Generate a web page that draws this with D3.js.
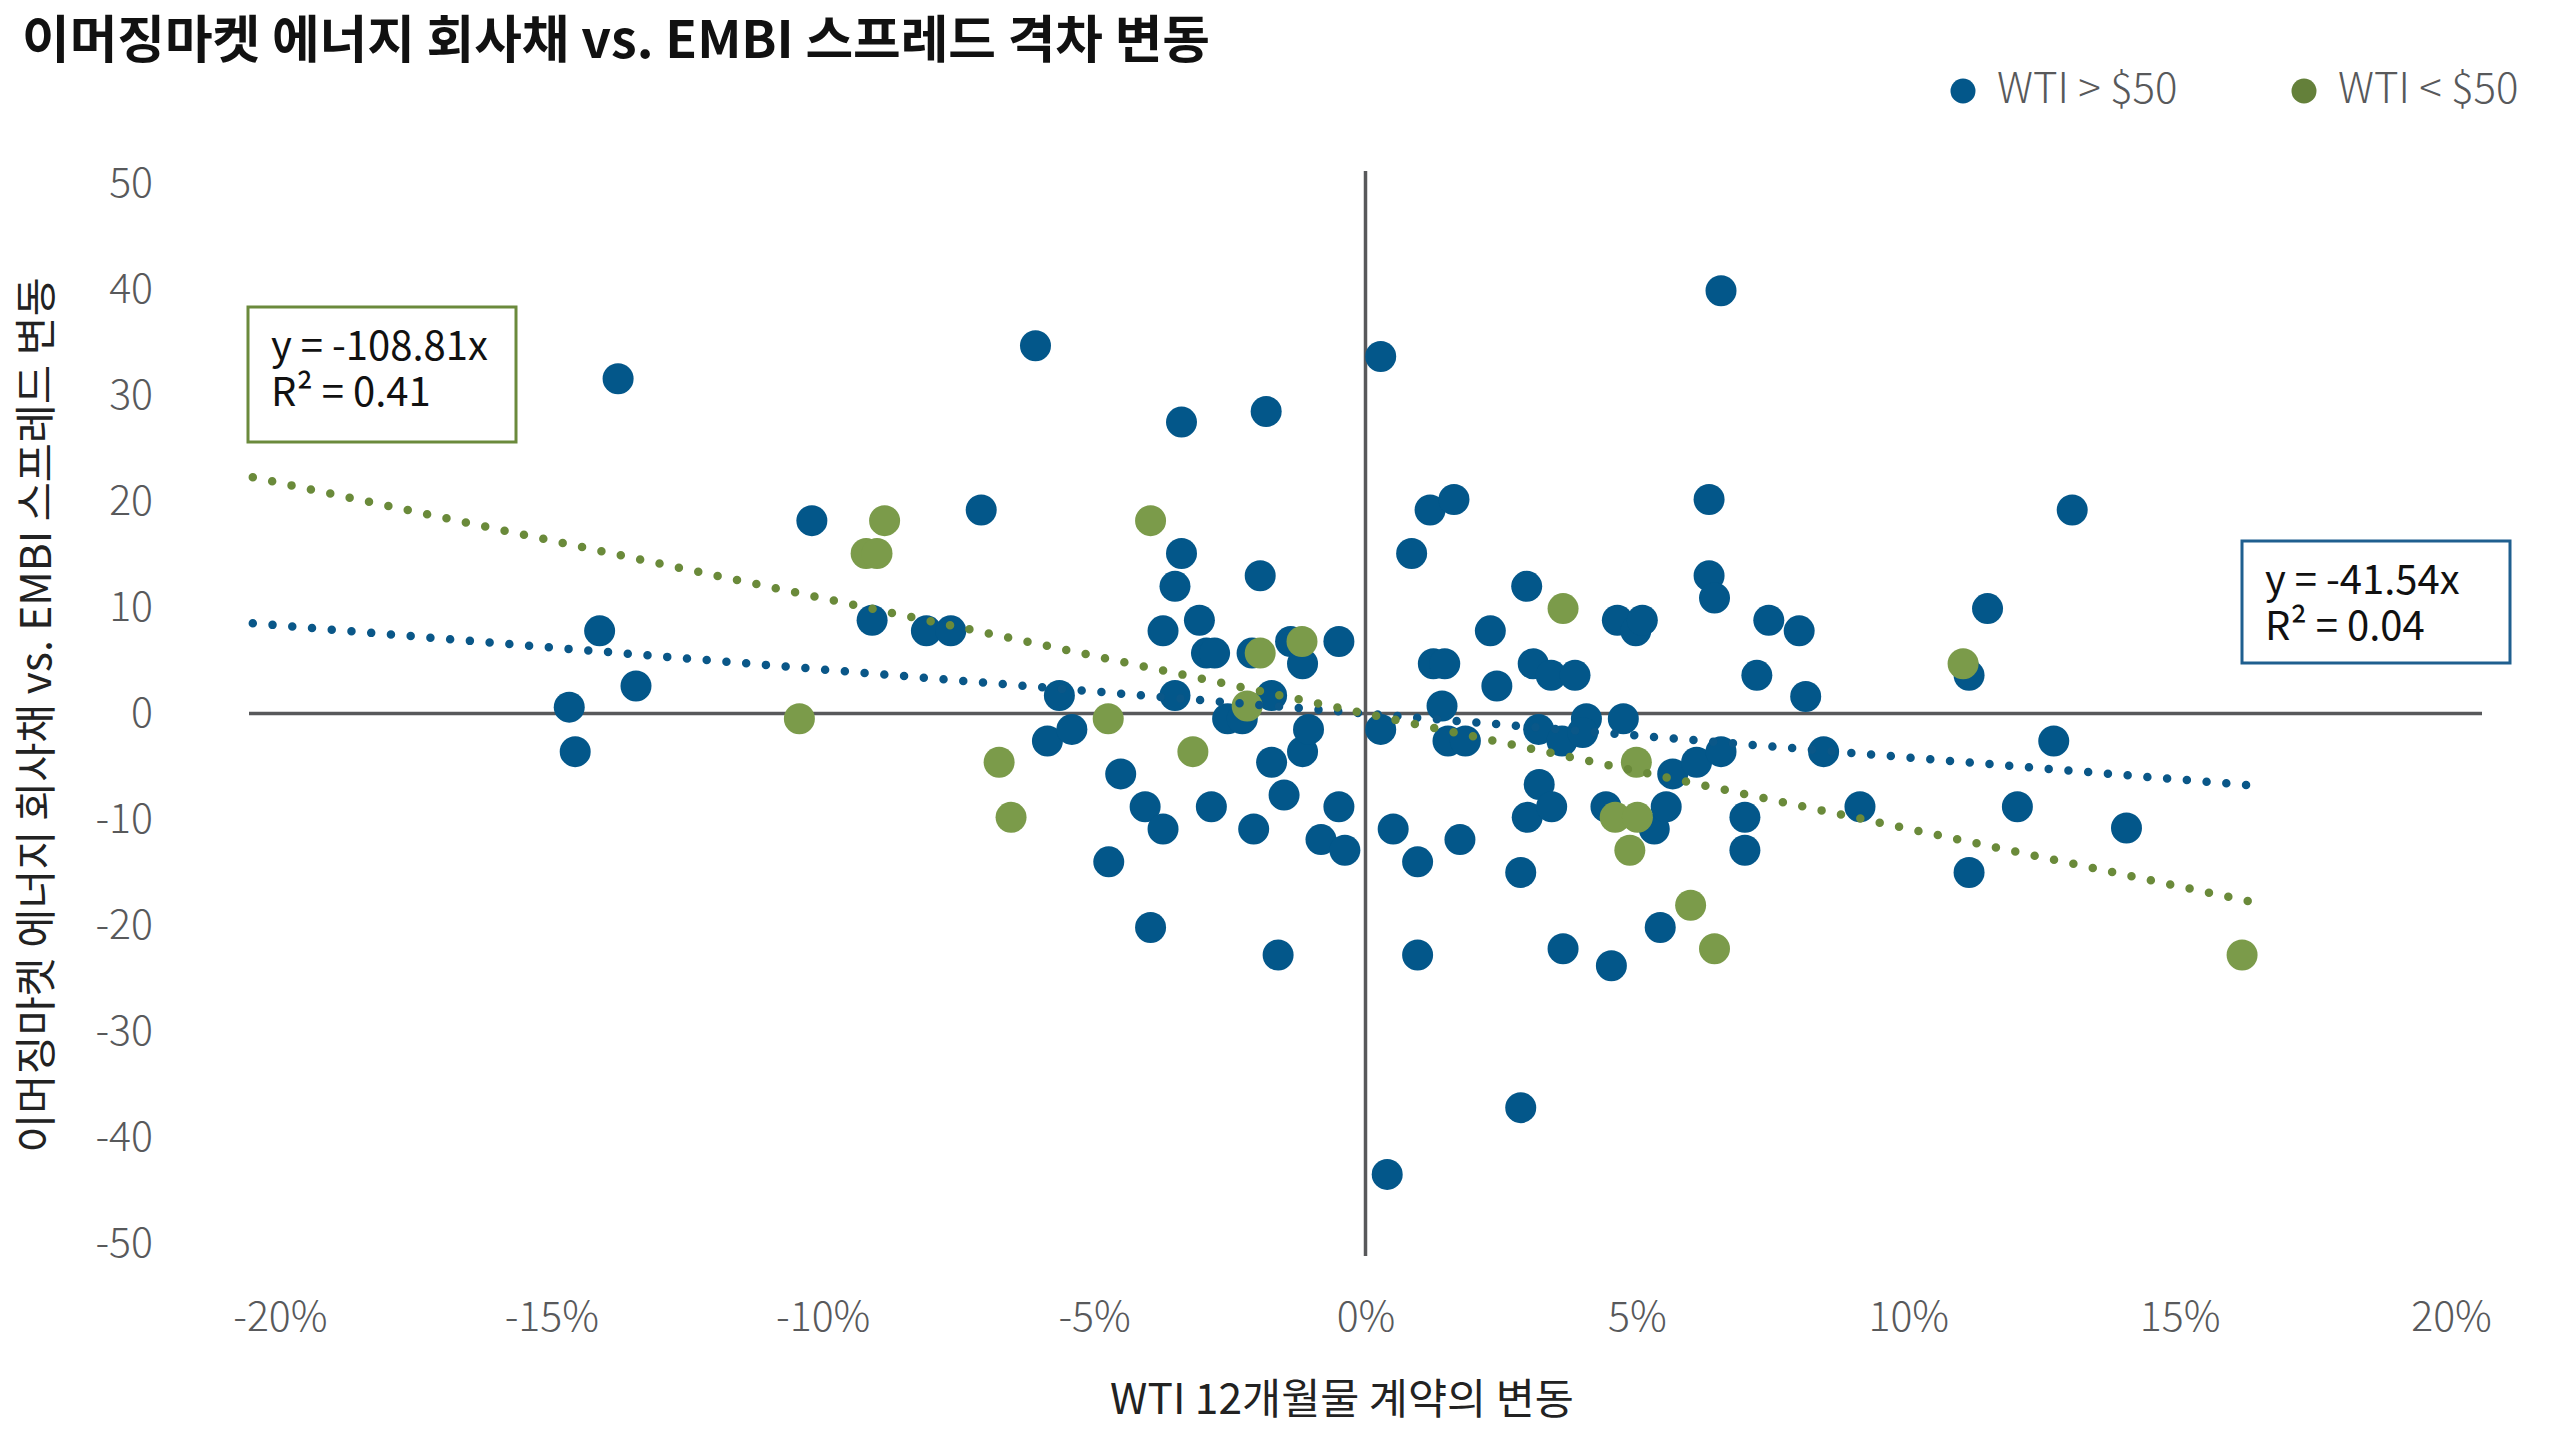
<!DOCTYPE html>
<html>
<head>
<meta charset="utf-8">
<script src="https://cdn.jsdelivr.net/npm/d3@7"></script>
<style>
  body { margin: 0; background: #fff; }
  text { font-family: "Noto Sans CJK KR", "Noto Sans", sans-serif; }
</style>
</head>
<body>
<svg width="2560" height="1440"></svg>
<script>
// [WTI 12m change (%), spread change]
var wtiAbove50 = [
  [-14.67, 0.6], [-14.56, -3.6], [-14.11, 7.8], [-13.77, 31.6], [-13.44, 2.6],
  [-10.20, 18.2], [-9.09, 8.8], [-8.09, 7.8], [-7.64, 7.8], [-7.08, 19.2],
  [-6.08, 34.7], [-5.86, -2.6], [-5.64, 1.7], [-5.41, -1.5], [-4.73, -14.0],
  [-4.51, -5.7], [-4.06, -8.8], [-3.96, -20.2], [-3.73, -10.9], [-3.73, 7.8],
  [-3.51, 12.0], [-3.51, 1.7], [-3.39, 15.1], [-3.39, 27.5], [-3.06, 8.8],
  [-2.93, 5.7], [-2.78, 5.7], [-2.84, -8.8], [-2.54, -0.5], [-2.27, -0.5],
  [-2.09, 5.7], [-2.06, -10.9], [-1.94, 13.0], [-1.83, 28.5], [-1.73, 1.7],
  [-1.73, -4.6], [-1.61, -22.8], [-1.50, -7.7], [-1.38, 6.8], [-1.16, 4.7],
  [-1.16, -3.6], [-1.05, -1.5], [-0.82, -11.9], [-0.49, 6.8], [-0.49, -8.8],
  [-0.38, -12.9], [0.28, 33.7], [0.28, -1.5], [0.40, -43.5], [0.51, -10.9],
  [0.85, 15.1], [0.96, -14.0], [0.96, -22.8], [1.19, 19.2], [1.25, 4.7],
  [1.46, 4.7], [1.41, 0.7], [1.52, -2.6], [1.63, 20.2], [1.74, -11.9],
  [1.84, -2.6], [2.30, 7.8], [2.42, 2.6], [2.86, -15.0], [2.86, -37.2],
  [2.97, 12.0], [2.98, -9.8], [3.09, 4.7], [3.19, -1.5], [3.20, -6.7],
  [3.42, 3.6], [3.43, -8.8], [3.62, -2.6], [3.64, -22.2], [3.86, 3.6],
  [4.07, -0.5], [4.00, -1.8], [4.43, -8.8], [4.53, -23.8], [4.64, 8.8],
  [4.75, -0.5], [4.98, 7.8], [5.10, 8.8], [5.32, -10.9], [5.43, -20.2],
  [5.54, -8.8], [5.66, -5.7], [6.10, -4.6], [6.33, 20.2], [6.33, 13.0],
  [6.43, 10.9], [6.55, 39.9], [6.55, -3.6], [6.99, -9.8], [6.99, -12.9],
  [7.21, 3.6], [7.43, 8.8], [7.99, 7.8], [8.11, 1.6], [8.44, -3.6],
  [9.11, -8.8], [11.12, 3.6], [11.12, -15.0], [11.46, 9.9], [12.01, -8.8],
  [12.68, -2.6], [13.02, 19.2], [14.02, -10.8]
];

var wtiBelow50 = [
  [-10.43, -0.5], [-9.20, 15.1], [-9.00, 15.1], [-8.86, 18.2], [-6.75, -4.6],
  [-6.53, -9.8], [-4.74, -0.5], [-3.96, 18.2], [-3.18, -3.6], [-2.18, 0.7],
  [-1.94, 5.7], [-1.17, 6.8], [3.64, 9.9], [4.60, -9.8], [5.01, -9.8],
  [4.87, -12.9], [4.99, -4.6], [5.99, -18.1], [6.43, -22.2], [11.01, 4.7],
  [16.15, -22.8]
];

var xTicks = [-20, -15, -10, -5, 0, 5, 10, 15, 20];
var yTicks = [-50, -40, -30, -20, -10, 0, 10, 20, 30, 40, 50];

var slopeAbove = -41.54, r2Above = "0.04", spanAbove = [-20.5, 16.45];
var slopeBelow = -108.81, r2Below = "0.41", spanBelow = [-20.5, 16.45];

var seriesNames = ["WTI > $50", "WTI < $50"];

var blue = "#03578a", green = "#7b9b4a";
var blueLine = "#0a5788", greenLine = "#6a8a3a";
var axisGrey = "#58595b";
var fontStack = '"Noto Sans CJK KR", "Noto Sans", sans-serif';

var svg = d3.select("svg");

var x = d3.scaleLinear().domain([-20.57, 20.57]).range([249, 2482]);
var y = d3.scaleLinear().domain([-51.2, 51.2]).range([1256, 171]);

// title
svg.append("text")
    .attr("x", 22).attr("y", 58)
    .attr("font-size", 51).attr("font-weight", 700).attr("fill", "#111")
    .attr("textLength", 1188).attr("lengthAdjust", "spacingAndGlyphs")
    .text("이머징마켓 에너지 회사채 vs. EMBI 스프레드 격차 변동");

// legend
var legend = svg.append("g");
[[1963, blue, seriesNames[0]], [2304, "#64803a", seriesNames[1]]].forEach(function(l) {
    legend.append("circle").attr("cx", l[0]).attr("cy", 91).attr("r", 12.5).attr("fill", l[1]);
    legend.append("text").attr("x", l[0] + 34).attr("y", 103)
        .attr("font-size", 42).attr("font-weight", 300).attr("fill", axisGrey).text(l[2]);
});

// axes (labels only)
var yAxis = svg.append("g")
    .attr("transform", "translate(153,0)")
    .call(d3.axisLeft(y).tickValues(yTicks).tickSize(0).tickPadding(0).tickFormat(function(d) { return String(d); }));
yAxis.select(".domain").remove();
yAxis.selectAll("text").attr("font-size", 41).attr("font-weight", 300).attr("fill", axisGrey)
    .style("font-family", fontStack);

var xAxis = svg.append("g")
    .attr("transform", "translate(0,1302)")
    .call(d3.axisBottom(x).tickValues(xTicks).tickSize(0).tickPadding(0).tickFormat(function(d) { return d + "%"; }));
xAxis.select(".domain").remove();
xAxis.selectAll("text").attr("font-size", 41).attr("font-weight", 300).attr("fill", axisGrey)
    .style("font-family", fontStack);

// axis titles
svg.append("text")
    .attr("transform", "translate(51,715) rotate(-90)")
    .attr("text-anchor", "middle").attr("font-size", 42.5).attr("fill", "#222")
    .text("이머징마켓 에너지 회사채 vs. EMBI 스프레드 변동");

svg.append("text")
    .attr("x", 1342).attr("y", 1414)
    .attr("text-anchor", "middle").attr("font-size", 42.5).attr("fill", "#222")
    .text("WTI 12개월물 계약의 변동");

// zero lines
svg.append("line")
    .attr("x1", x.range()[0]).attr("x2", x.range()[1])
    .attr("y1", y(0)).attr("y2", y(0))
    .attr("stroke", axisGrey).attr("stroke-width", 3.5);
svg.append("line")
    .attr("x1", x(0)).attr("x2", x(0))
    .attr("y1", y.range()[0]).attr("y2", y.range()[1])
    .attr("stroke", axisGrey).attr("stroke-width", 3.5);

// points
svg.append("g").selectAll("circle")
    .data(wtiAbove50)
    .enter().append("circle")
    .attr("cx", function(d) { return x(d[0]); })
    .attr("cy", function(d) { return y(d[1]); })
    .attr("r", 15.5)
    .attr("fill", blue);

svg.append("g").selectAll("circle")
    .data(wtiBelow50)
    .enter().append("circle")
    .attr("cx", function(d) { return x(d[0]); })
    .attr("cy", function(d) { return y(d[1]); })
    .attr("r", 15.5)
    .attr("fill", green);

// trendlines (through origin)
function trend(slope, span, color) {
    svg.append("line")
        .attr("x1", x(span[0])).attr("y1", y(slope * span[0] / 100))
        .attr("x2", x(span[1])).attr("y2", y(slope * span[1] / 100))
        .attr("stroke", color).attr("stroke-width", 8.5)
        .attr("stroke-linecap", "round")
        .attr("stroke-dasharray", "0 19.8");
}
trend(slopeAbove, spanAbove, blueLine);
trend(slopeBelow, spanBelow, greenLine);

// equation boxes (two lines in one text element)
function eqBox(bx, by, bw, bh, color, slope, r2) {
    var g = svg.append("g");
    g.append("rect").attr("x", bx).attr("y", by).attr("width", bw).attr("height", bh)
        .attr("fill", "#fff").attr("stroke", color).attr("stroke-width", 3);
    var t = g.append("text").attr("font-size", 40).attr("fill", "#111");
    t.append("tspan").attr("x", bx + 23).attr("y", by + 53).text("y = " + slope + "x");
    t.append("tspan").attr("x", bx + 23).attr("y", by + 99).text("R² = " + r2);
}
eqBox(248, 307, 268, 135, "#6b8a3c", slopeBelow, r2Below);
eqBox(2242, 541, 268, 122, "#1f5f8f", slopeAbove, r2Above);
</script>
</body>
</html>
